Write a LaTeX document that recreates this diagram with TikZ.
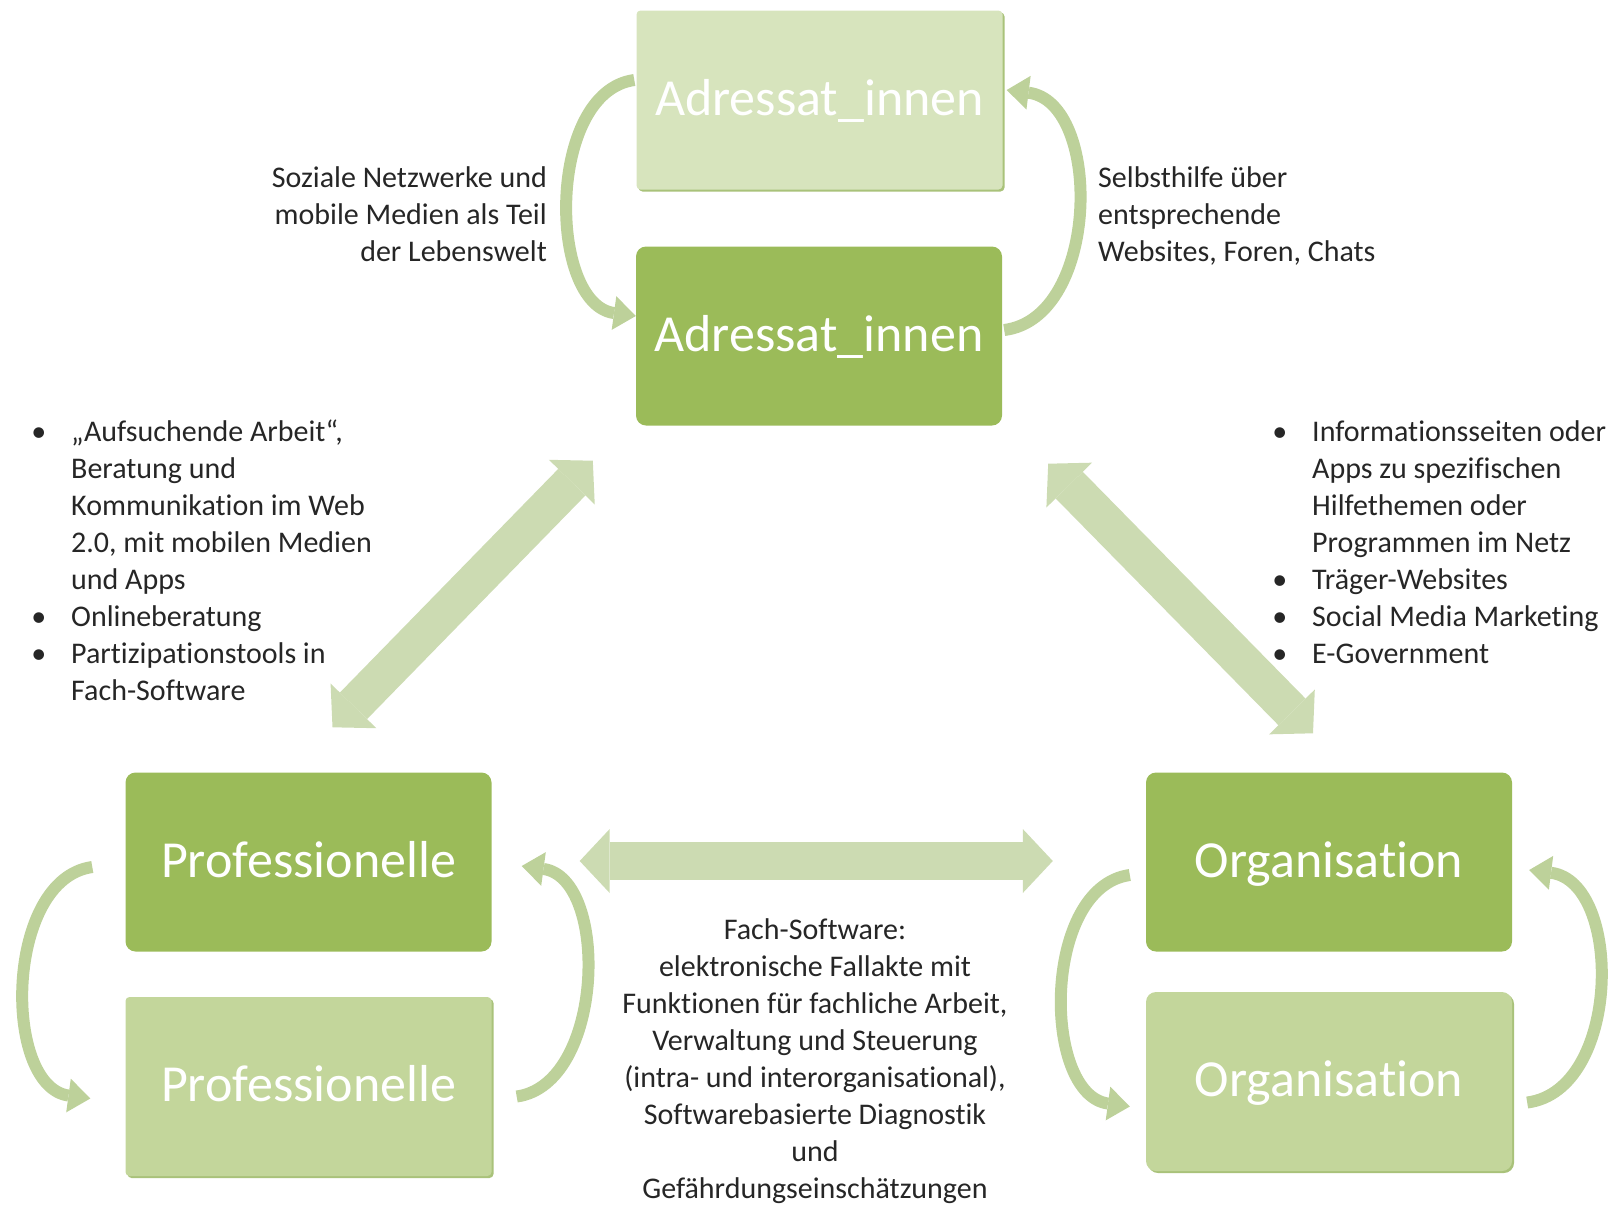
\documentclass[tikz,border=0pt]{standalone}
\usepackage{fontspec}
\setmainfont{Carlito}[Ligatures=NoCommon]
\usetikzlibrary{arrows.meta,shadows}

\definecolor{boxdark}{HTML}{9BBB59}
\definecolor{boxlight}{HTML}{C3D69B}
\definecolor{boxpale}{HTML}{D7E4BD}
\definecolor{edgegreen}{HTML}{A9C27A}
\definecolor{arrowpale}{HTML}{CCDBB2}
\definecolor{arrowcurve}{HTML}{BDD19A}
\definecolor{txtcol}{HTML}{262626}

\begin{document}
\begin{tikzpicture}[x=1pt, y=-1pt,
	box/.style={rectangle, minimum width=366pt, minimum height=179pt, inner sep=0pt,
		text=white, text height=36pt, text depth=6pt, font=\fontsize{52}{62}\selectfont},
	darkbox/.style={box, fill=boxdark, rounded corners=10pt},
	lightbox/.style={box, fill=boxlight, rounded corners=4pt,
		drop shadow={shadow xshift=2pt, shadow yshift=-2pt, fill=edgegreen, opacity=1}},
	fatarrow/.style={draw=arrowpale, line width=38pt,
		{Triangle[length=30pt, width=64pt, line width=0pt]}-{Triangle[length=30pt, width=64pt, line width=0pt]}},
	bendarrow/.style={draw=arrowcurve, line width=12pt,
		-{Triangle[length=22pt, width=34pt, line width=0pt]}},
	txt/.style={text=txtcol, font=\fontsize{30}{37}\selectfont, inner sep=0pt}
	]
	\useasboundingbox (0,0) rectangle (1618,1208);

	% boxes
	\node[lightbox, fill=boxpale] (adrL) at (819.5,100) {Adressat\_innen};
	\node[darkbox] (adrD) at (819,336) {Adressat\_innen};
	\node[darkbox] (proD) at (308.5,862) {Professionelle};
	\node[lightbox] (proL) at (308.5,1086.5) {Professionelle};
	\node[darkbox] (orgD) at (1329,862) {Organisation};
	\node[lightbox, rounded corners=10pt] (orgL) at (1329,1081.5) {Organisation};

	% big double arrows
	\draw[fatarrow] ([shift={(24,-45)}]proD.north) -- ([shift={(-43,35)}]adrD.south west);
	\draw[fatarrow] ([shift={(46,38)}]adrD.south east) -- ([shift={(-16,-39)}]orgD.north);
	\draw[fatarrow] ([shift={(88,-1)}]proD.east) -- ([shift={(-93,-1)}]orgD.west);

	% curved arrows
	\draw[bendarrow] ([shift={(-2,-20)}]adrL.west) .. controls +(-88,12) and +(-88,-12) .. ([shift={(0,-20)}]adrD.west); % Adressat_innen
	\draw[bendarrow] ([shift={(2,-6)}]adrD.east) .. controls +(96,-12) and +(96,12) .. ([shift={(4,-10)}]adrL.east);
	\draw[bendarrow] ([shift={(-33,5)}]proD.west) .. controls +(-88,12) and +(-88,-12) .. ([shift={(-35,12)}]proL.west); % Professionelle
	\draw[bendarrow] ([shift={(25,10)}]proL.east) .. controls +(88,-12) and +(88,12) .. ([shift={(30,4)}]proD.east);
	\draw[bendarrow] ([shift={(-16,13)}]orgD.west) .. controls +(-88,12) and +(-88,-12) .. ([shift={(-16,25)}]orgL.west); % Organisation
	\draw[bendarrow] ([shift={(15,21)}]orgL.east) .. controls +(94,-12) and +(94,12) .. ([shift={(17,8)}]orgD.east);

	% texts
	\node[txt, anchor=north east, align=right] (sozial) at (547,166)
		{Soziale Netzwerke und\\mobile Medien als Teil\\der Lebenswelt};
	\node[txt, anchor=north west, align=left] (selbst) at (1098,166)
		{Selbsthilfe über\\entsprechende\\Websites, Foren, Chats};
	\node[txt, anchor=north west, align=left] (proList) at (71,420)
		{\llap{•\hspace{25pt}}„Aufsuchende Arbeit“,\\Beratung und\\Kommunikation im Web\\2.0, mit mobilen Medien\\und Apps\\
		\llap{•\hspace{25pt}}Onlineberatung\\\llap{•\hspace{25pt}}Partizipationstools in\\Fach-Software};
	\node[txt, anchor=north west, align=left] (orgList) at (1312,420)
		{\llap{•\hspace{25pt}}Informationsseiten oder\\Apps zu spezifischen\\Hilfethemen oder\\Programmen im Netz\\
		\llap{•\hspace{25pt}}Träger-Websites\\\llap{•\hspace{25pt}}Social Media Marketing\\\llap{•\hspace{25pt}}E-Government};
	\node[txt, anchor=north, align=center] (fach) at (815,918)
		{Fach-Software:\\elektronische Fallakte mit\\Funktionen für fachliche Arbeit,\\Verwaltung und Steuerung\\(intra- und interorganisational),\\Softwarebasierte Diagnostik\\und\\Gefährdungseinschätzungen};
\end{tikzpicture}
\end{document}
